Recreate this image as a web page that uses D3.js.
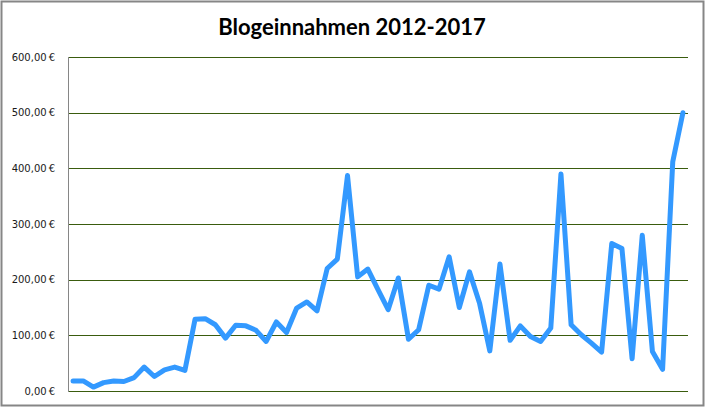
<!DOCTYPE html>
<html><head><meta charset="utf-8">
<script src="https://cdn.jsdelivr.net/npm/d3@7"></script>
<style>body{margin:0;background:#fff}svg{display:block}</style>
</head><body>
<script>
const title = "Blogeinnahmen 2012-2017";
const yTicks = [0, 100, 200, 300, 400, 500, 600];
const values = [18, 18, 7, 15, 18, 17, 24, 43, 26, 38, 43, 37,
  129, 130, 119, 95, 118, 117, 109, 89, 124, 105, 149, 160, 144, 220, 237, 387,
  205, 219, 182, 146, 203, 93, 110, 190, 183, 241, 150, 214, 157, 72, 228, 91,
  117, 98, 89, 113, 390, 119, 101, 86, 70, 265, 256, 58, 280, 71, 39, 412, 500];
const months = values.map((d, i) => i);

const W = 705, H = 408;
const svg = d3.select("body").append("svg").attr("width", W).attr("height", H);

svg.append("rect").attr("x", 1.5).attr("y", 1.5).attr("width", W - 3).attr("height", H - 4)
  .attr("fill", "#fff").attr("stroke", "#868686").attr("stroke-width", 2);

svg.append("text").attr("x", 352).attr("y", 35).attr("text-anchor", "middle")
  .attr("font-family", "Lato, 'Open Sans', sans-serif").attr("font-weight", "bold")
  .attr("font-size", 22).attr("fill", "#000").text(title);

const x = d3.scaleBand().domain(months).range([68, 688]);
const y = d3.scaleLinear().domain([0, 600]).range([391, 57]);

const g = svg.append("g");
const yAxis = d3.axisLeft(y).tickValues(yTicks).tickSize(0).tickPadding(13)
  .tickFormat(d => d3.format(".2f")(d).replace(".", ",") + "\u2009€");
const ax = svg.append("g").attr("transform", "translate(68,0)").call(yAxis);
ax.select(".domain").remove();
ax.selectAll("text").attr("font-family", "'DejaVu Sans', sans-serif").attr("font-size", 10).attr("fill", "#1a1a1a");

g.selectAll("line.grid").data(yTicks).join("line").attr("class", "grid")
  .attr("x1", 68).attr("x2", 688).attr("y1", d => Math.round(y(d)) + 0.5).attr("y2", d => Math.round(y(d)) + 0.5)
  .attr("stroke", "#3a5c0e").attr("stroke-width", 1);

svg.append("line").attr("x1", 68.5).attr("x2", 68.5).attr("y1", 57).attr("y2", 392)
  .attr("stroke", "#868686").attr("stroke-width", 1);

const line = d3.line().x((d, i) => x(i) + x.bandwidth() / 2).y(d => y(d));
svg.append("path").datum(values).attr("d", line).attr("fill", "none")
  .attr("stroke", "#3399ff").attr("stroke-width", 5).attr("stroke-linejoin", "round").attr("stroke-linecap", "round");
</script>
</body></html>
